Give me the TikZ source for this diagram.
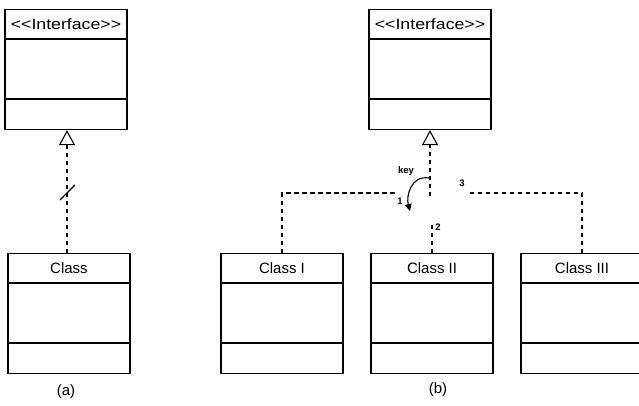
\documentclass[tikz,border=0pt]{standalone}
\usepackage{fontspec}
\setmainfont{Liberation Sans}
\usetikzlibrary{arrows.meta,calc}
\begin{document}
\begin{tikzpicture}[x=1pt,y=-1pt,
  umlbox/.style={draw,line width=1.1pt,minimum width=122pt,minimum height=120pt,inner sep=0pt,anchor=north},
  ttl/.style={font=\fontsize{15}{17}\selectfont,anchor=center},
  dep/.style={line width=1.2pt,dash pattern=on 4.5pt off 3.5pt},
  realize/.style={dep,-{Triangle[open,width=16pt,length=15pt,line width=1.1pt]}},
  lbl/.style={font=\bfseries\fontsize{9.5}{11}\selectfont,inner sep=0pt},
  figcap/.style={font=\fontsize{15}{17}\selectfont}]
\useasboundingbox (0,0) rectangle (639,405);
% boxes
\foreach \n/\cx/\ty in {ia/66/9,ib/430/9,ca/69/253,cI/282/253,cII/432/253,cIII/582/253}{
  \node[umlbox] (\n) at (\cx,\ty) {};
  \draw[line width=1.1pt] ($(\n.north west)+(0,30)$) -- ($(\n.north east)+(0,30)$);
  \draw[line width=1.1pt] ($(\n.north west)+(0,90)$) -- ($(\n.north east)+(0,90)$);
}
\node[ttl] (tia) at ($(ia.north)+(0,15)$) {\scalebox{1.18}[1]{{<}{<}Interface{>}{>}}};
\node[ttl] (tib) at ($(ib.north)+(0,15)$) {\scalebox{1.18}[1]{{<}{<}Interface{>}{>}}};
\node[ttl] (tca) at ($(ca.north)+(0,15)$) {Class};
\node[ttl] (tcI) at ($(cI.north)+(0,15)$) {Class I};
\node[ttl] (tcII) at ($(cII.north)+(0,15)$) {Class II};
\node[ttl] (tcIII) at ($(cIII.north)+(0,15)$) {Class III};
% (a)
\draw[realize] (ca.north -| 67,0) -- (ia.south -| 67,0);
\draw[line width=1.2pt] (60,200) -- (75,185);
\node[figcap] (la) at (66,392) {(a)};
% (b)
\coordinate (kc) at (430,196);
\coordinate (c1) at (397,193);
\coordinate (c2) at (432,222);
\coordinate (c3) at (467,193);
\draw[realize] (kc) -- (ib.south);
\draw[dep] (cI.north) |- (c1);
\draw[dep] (cII.north) -- (c2);
\draw[dep] (cIII.north) |- (c3);
\draw[line width=1.1pt,-{Triangle[width=7pt,length=7pt]}] (429,178) .. controls (411,175) and (406,196) .. (410,211);
\node[lbl] (key) at (406,171) {key};
\node[lbl] (n1) at (400,201) {1};
\node[lbl] (n2) at (438,227) {2};
\node[lbl] (n3) at (462,183) {3};
\node[figcap] (lb) at (438,390) {(b)};
\end{tikzpicture}
\end{document}
